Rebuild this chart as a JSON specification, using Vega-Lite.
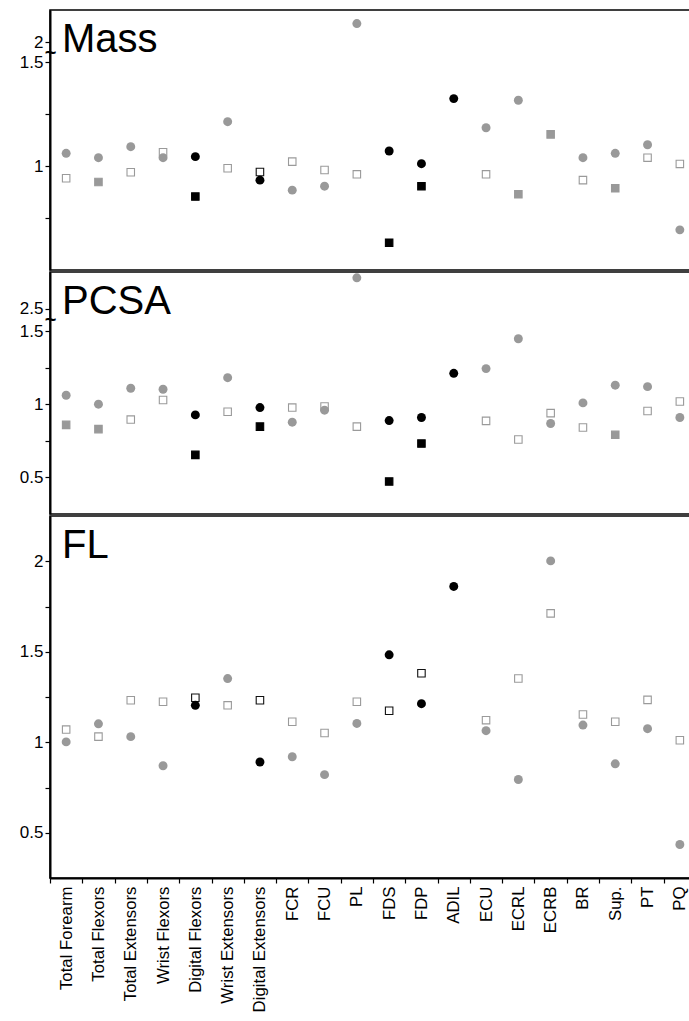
{
  "$schema": "https://vega.github.io/schema/vega-lite/v6.json",
  "padding": {"left": 9, "top": 9, "right": 0, "bottom": 0},
  "background": "white",
  "config": {
    "view": {"stroke": "black", "strokeWidth": 1.6},
    "font": "Liberation Sans",
    "axis": {"domainColor": "black", "domainWidth": 2, "tickColor": "black", "tickWidth": 1.2, "tickSize": 5, "labelColor": "black", "labelFontSize": 17, "labelFont": "Liberation Sans", "grid": false, "title": null, "labelPadding": 2},
    "title": {"fontSize": 40, "fontWeight": "normal", "font": "Liberation Sans", "anchor": "start", "frame": "group", "baseline": "alphabetic", "offset": -50, "dx": 12, "color": "black"},
    "concat": {"spacing": 0}
  },
  "data": {"values": [
    {"panel":"Mass","muscle":"Total Forearm","marker":"square","style":"gray open","ratio":0.941},
    {"panel":"Mass","muscle":"Total Flexors","marker":"square","style":"gray","ratio":0.923},
    {"panel":"Mass","muscle":"Total Extensors","marker":"square","style":"gray open","ratio":0.970},
    {"panel":"Mass","muscle":"Wrist Flexors","marker":"square","style":"gray open","ratio":1.066},
    {"panel":"Mass","muscle":"Digital Flexors","marker":"square","style":"black","ratio":0.853},
    {"panel":"Mass","muscle":"Wrist Extensors","marker":"square","style":"gray open","ratio":0.989},
    {"panel":"Mass","muscle":"Digital Extensors","marker":"square","style":"black open","ratio":0.971},
    {"panel":"Mass","muscle":"FCR","marker":"square","style":"gray open","ratio":1.021},
    {"panel":"Mass","muscle":"FCU","marker":"square","style":"gray open","ratio":0.981},
    {"panel":"Mass","muscle":"PL","marker":"square","style":"gray open","ratio":0.960},
    {"panel":"Mass","muscle":"FDS","marker":"square","style":"black","ratio":0.631},
    {"panel":"Mass","muscle":"FDP","marker":"square","style":"black","ratio":0.903},
    {"panel":"Mass","muscle":"ECU","marker":"square","style":"gray open","ratio":0.960},
    {"panel":"Mass","muscle":"ECRL","marker":"square","style":"gray","ratio":0.864},
    {"panel":"Mass","muscle":"ECRB","marker":"square","style":"gray","ratio":1.152},
    {"panel":"Mass","muscle":"BR","marker":"square","style":"gray open","ratio":0.932},
    {"panel":"Mass","muscle":"Sup.","marker":"square","style":"gray","ratio":0.893},
    {"panel":"Mass","muscle":"PT","marker":"square","style":"gray open","ratio":1.040},
    {"panel":"Mass","muscle":"PQ","marker":"square","style":"gray open","ratio":1.010},
    {"panel":"Mass","muscle":"Total Forearm","marker":"circle","style":"gray","ratio":1.061},
    {"panel":"Mass","muscle":"Total Flexors","marker":"circle","style":"gray","ratio":1.040},
    {"panel":"Mass","muscle":"Total Extensors","marker":"circle","style":"gray","ratio":1.093},
    {"panel":"Mass","muscle":"Wrist Flexors","marker":"circle","style":"gray","ratio":1.040},
    {"panel":"Mass","muscle":"Digital Flexors","marker":"circle","style":"black","ratio":1.045},
    {"panel":"Mass","muscle":"Wrist Extensors","marker":"circle","style":"gray","ratio":1.213},
    {"panel":"Mass","muscle":"Digital Extensors","marker":"circle","style":"black","ratio":0.932},
    {"panel":"Mass","muscle":"FCR","marker":"circle","style":"gray","ratio":0.884},
    {"panel":"Mass","muscle":"FCU","marker":"circle","style":"gray","ratio":0.903},
    {"panel":"Mass","muscle":"PL","marker":"circle","style":"gray","ratio":2.09},
    {"panel":"Mass","muscle":"FDS","marker":"circle","style":"black","ratio":1.072},
    {"panel":"Mass","muscle":"FDP","marker":"circle","style":"black","ratio":1.011},
    {"panel":"Mass","muscle":"ADIL","marker":"circle","style":"black","ratio":1.324},
    {"panel":"Mass","muscle":"ECU","marker":"circle","style":"gray","ratio":1.184},
    {"panel":"Mass","muscle":"ECRL","marker":"circle","style":"gray","ratio":1.316},
    {"panel":"Mass","muscle":"BR","marker":"circle","style":"gray","ratio":1.040},
    {"panel":"Mass","muscle":"Sup.","marker":"circle","style":"gray","ratio":1.061},
    {"panel":"Mass","muscle":"PT","marker":"circle","style":"gray","ratio":1.102},
    {"panel":"Mass","muscle":"PQ","marker":"circle","style":"gray","ratio":0.693},

    {"panel":"PCSA","muscle":"Total Forearm","marker":"square","style":"gray","ratio":0.859},
    {"panel":"PCSA","muscle":"Total Flexors","marker":"square","style":"gray","ratio":0.830},
    {"panel":"PCSA","muscle":"Total Extensors","marker":"square","style":"gray open","ratio":0.895},
    {"panel":"PCSA","muscle":"Wrist Flexors","marker":"square","style":"gray open","ratio":1.029},
    {"panel":"PCSA","muscle":"Digital Flexors","marker":"square","style":"black","ratio":0.654},
    {"panel":"PCSA","muscle":"Wrist Extensors","marker":"square","style":"gray open","ratio":0.948},
    {"panel":"PCSA","muscle":"Digital Extensors","marker":"square","style":"black","ratio":0.847},
    {"panel":"PCSA","muscle":"FCR","marker":"square","style":"gray open","ratio":0.977},
    {"panel":"PCSA","muscle":"FCU","marker":"square","style":"gray open","ratio":0.984},
    {"panel":"PCSA","muscle":"PL","marker":"square","style":"gray open","ratio":0.847},
    {"panel":"PCSA","muscle":"FDS","marker":"square","style":"black","ratio":0.472},
    {"panel":"PCSA","muscle":"FDP","marker":"square","style":"black","ratio":0.731},
    {"panel":"PCSA","muscle":"ECU","marker":"square","style":"gray open","ratio":0.886},
    {"panel":"PCSA","muscle":"ECRL","marker":"square","style":"gray open","ratio":0.759},
    {"panel":"PCSA","muscle":"ECRB","marker":"square","style":"gray open","ratio":0.939},
    {"panel":"PCSA","muscle":"BR","marker":"square","style":"gray open","ratio":0.841},
    {"panel":"PCSA","muscle":"Sup.","marker":"square","style":"gray","ratio":0.791},
    {"panel":"PCSA","muscle":"PT","marker":"square","style":"gray open","ratio":0.954},
    {"panel":"PCSA","muscle":"PQ","marker":"square","style":"gray open","ratio":1.018},
    {"panel":"PCSA","muscle":"Total Forearm","marker":"circle","style":"gray","ratio":1.061},
    {"panel":"PCSA","muscle":"Total Flexors","marker":"circle","style":"gray","ratio":1.000},
    {"panel":"PCSA","muscle":"Total Extensors","marker":"circle","style":"gray","ratio":1.109},
    {"panel":"PCSA","muscle":"Wrist Flexors","marker":"circle","style":"gray","ratio":1.102},
    {"panel":"PCSA","muscle":"Digital Flexors","marker":"circle","style":"black","ratio":0.927},
    {"panel":"PCSA","muscle":"Wrist Extensors","marker":"circle","style":"gray","ratio":1.181},
    {"panel":"PCSA","muscle":"Digital Extensors","marker":"circle","style":"black","ratio":0.977},
    {"panel":"PCSA","muscle":"FCR","marker":"circle","style":"gray","ratio":0.877},
    {"panel":"PCSA","muscle":"FCU","marker":"circle","style":"gray","ratio":0.959},
    {"panel":"PCSA","muscle":"PL","marker":"circle","style":"gray","ratio":2.71},
    {"panel":"PCSA","muscle":"FDS","marker":"circle","style":"black","ratio":0.888},
    {"panel":"PCSA","muscle":"FDP","marker":"circle","style":"black","ratio":0.909},
    {"panel":"PCSA","muscle":"ADIL","marker":"circle","style":"black","ratio":1.211},
    {"panel":"PCSA","muscle":"ECU","marker":"circle","style":"gray","ratio":1.243},
    {"panel":"PCSA","muscle":"ECRL","marker":"circle","style":"gray","ratio":1.447},
    {"panel":"PCSA","muscle":"ECRB","marker":"circle","style":"gray","ratio":0.868},
    {"panel":"PCSA","muscle":"BR","marker":"circle","style":"gray","ratio":1.009},
    {"panel":"PCSA","muscle":"Sup.","marker":"circle","style":"gray","ratio":1.130},
    {"panel":"PCSA","muscle":"PT","marker":"circle","style":"gray","ratio":1.120},
    {"panel":"PCSA","muscle":"PQ","marker":"circle","style":"gray","ratio":0.909},

    {"panel":"FL","muscle":"Total Forearm","marker":"square","style":"gray open","ratio":1.070},
    {"panel":"FL","muscle":"Total Flexors","marker":"square","style":"gray open","ratio":1.031},
    {"panel":"FL","muscle":"Total Extensors","marker":"square","style":"gray open","ratio":1.232},
    {"panel":"FL","muscle":"Wrist Flexors","marker":"square","style":"gray open","ratio":1.224},
    {"panel":"FL","muscle":"Digital Flexors","marker":"square","style":"black open","ratio":1.246},
    {"panel":"FL","muscle":"Wrist Extensors","marker":"square","style":"gray open","ratio":1.204},
    {"panel":"FL","muscle":"Digital Extensors","marker":"square","style":"black open","ratio":1.232},
    {"panel":"FL","muscle":"FCR","marker":"square","style":"gray open","ratio":1.113},
    {"panel":"FL","muscle":"FCU","marker":"square","style":"gray open","ratio":1.051},
    {"panel":"FL","muscle":"PL","marker":"square","style":"gray open","ratio":1.224},
    {"panel":"FL","muscle":"FDS","marker":"square","style":"black open","ratio":1.174},
    {"panel":"FL","muscle":"FDP","marker":"square","style":"black open","ratio":1.381},
    {"panel":"FL","muscle":"ECU","marker":"square","style":"gray open","ratio":1.122},
    {"panel":"FL","muscle":"ECRL","marker":"square","style":"gray open","ratio":1.352},
    {"panel":"FL","muscle":"ECRB","marker":"square","style":"gray open","ratio":1.712},
    {"panel":"FL","muscle":"BR","marker":"square","style":"gray open","ratio":1.153},
    {"panel":"FL","muscle":"Sup.","marker":"square","style":"gray open","ratio":1.113},
    {"panel":"FL","muscle":"PT","marker":"square","style":"gray open","ratio":1.234},
    {"panel":"FL","muscle":"PQ","marker":"square","style":"gray open","ratio":1.011},
    {"panel":"FL","muscle":"Total Forearm","marker":"circle","style":"gray","ratio":1.002},
    {"panel":"FL","muscle":"Total Flexors","marker":"circle","style":"gray","ratio":1.102},
    {"panel":"FL","muscle":"Total Extensors","marker":"circle","style":"gray","ratio":1.031},
    {"panel":"FL","muscle":"Wrist Flexors","marker":"circle","style":"gray","ratio":0.870},
    {"panel":"FL","muscle":"Digital Flexors","marker":"circle","style":"black","ratio":1.204},
    {"panel":"FL","muscle":"Wrist Extensors","marker":"circle","style":"gray","ratio":1.352},
    {"panel":"FL","muscle":"Digital Extensors","marker":"circle","style":"black","ratio":0.891},
    {"panel":"FL","muscle":"FCR","marker":"circle","style":"gray","ratio":0.920},
    {"panel":"FL","muscle":"FCU","marker":"circle","style":"gray","ratio":0.821},
    {"panel":"FL","muscle":"PL","marker":"circle","style":"gray","ratio":1.104},
    {"panel":"FL","muscle":"FDS","marker":"circle","style":"black","ratio":1.483},
    {"panel":"FL","muscle":"FDP","marker":"circle","style":"black","ratio":1.213},
    {"panel":"FL","muscle":"ADIL","marker":"circle","style":"black","ratio":1.861},
    {"panel":"FL","muscle":"ECU","marker":"circle","style":"gray","ratio":1.064},
    {"panel":"FL","muscle":"ECRL","marker":"circle","style":"gray","ratio":0.794},
    {"panel":"FL","muscle":"ECRB","marker":"circle","style":"gray","ratio":2.002},
    {"panel":"FL","muscle":"BR","marker":"circle","style":"gray","ratio":1.095},
    {"panel":"FL","muscle":"Sup.","marker":"circle","style":"gray","ratio":0.881},
    {"panel":"FL","muscle":"PT","marker":"circle","style":"gray","ratio":1.075},
    {"panel":"FL","muscle":"PQ","marker":"circle","style":"gray","ratio":0.435}
  ]},
  "vconcat": [
    {
      "title": {"text": "Mass"},
      "width": 640, "height": 260,
      "transform": [{"filter": "datum.panel === 'Mass'"}],
      "layer": [
        {
          "transform": [{"filter": "datum.marker === 'square'"}],
          "mark": {"type": "square", "size": 56, "strokeWidth": 1.1, "opacity": 1},
          "encoding": {
            "x": {"field": "muscle", "type": "nominal", "sort": null, "scale": {"domain": ["Total Forearm","Total Flexors","Total Extensors","Wrist Flexors","Digital Flexors","Wrist Extensors","Digital Extensors","FCR","FCU","PL","FDS","FDP","ADIL","ECU","ECRL","ECRB","BR","Sup.","PT","PQ"], "range": [0, 646]}, "axis": null},
            "y": {"field": "ratio", "type": "quantitative", "scale": {"domain": [0.5, 1.5, 2, 2.155], "range": [260, 52, 32.4, 0], "nice": false, "zero": false}, "axis": {
              "values": [0.75, 1, 1.25, 1.5, 1.75, 2],
              "labelExpr": "datum.value == 1.75 ? '~' : ((datum.value == 1 || datum.value == 1.5 || datum.value == 2) ? '' + datum.value : '')",
              "labelOverlap": false, "minExtent": 40, "maxExtent": 40,
              "labelPadding": {"condition": {"test": "datum.value == 1.75", "value": -5}, "value": 2},
              "labelAlign": {"condition": {"test": "datum.value == 1.75", "value": "center"}, "value": "right"},
              "labelFontWeight": {"condition": {"test": "datum.value == 1.75", "value": "bold"}, "value": "normal"},
              "labelFontSize": {"condition": {"test": "datum.value == 1.75", "value": 20}, "value": 17},
              "tickOpacity": {"condition": {"test": "datum.value == 1.75", "value": 0}, "value": 1}
            }},
            "fill": {"field": "style", "type": "nominal", "scale": {"domain": ["gray", "black", "gray open", "black open"], "range": ["#999999", "#000000", "#ffffff", "#ffffff"]}, "legend": null},
            "stroke": {"field": "style", "type": "nominal", "scale": {"domain": ["gray", "black", "gray open", "black open"], "range": ["#999999", "#000000", "#9a9a9a", "#111111"]}, "legend": null}
          }
        },
        {
          "transform": [{"filter": "datum.marker === 'circle'"}],
          "mark": {"type": "circle", "size": 80, "opacity": 1},
          "encoding": {
            "x": {"field": "muscle", "type": "nominal", "sort": null},
            "y": {"field": "ratio", "type": "quantitative"},
            "fill": {"field": "style", "type": "nominal", "legend": null}
          }
        }
      ]
    },
    {
      "title": {"text": "PCSA"},
      "width": 640, "height": 242,
      "transform": [{"filter": "datum.panel === 'PCSA'"}],
      "layer": [
        {
          "transform": [{"filter": "datum.marker === 'square'"}],
          "mark": {"type": "square", "size": 56, "strokeWidth": 1.1, "opacity": 1},
          "encoding": {
            "x": {"field": "muscle", "type": "nominal", "sort": null, "scale": {"domain": ["Total Forearm","Total Flexors","Total Extensors","Wrist Flexors","Digital Flexors","Wrist Extensors","Digital Extensors","FCR","FCU","PL","FDS","FDP","ADIL","ECU","ECRL","ECRB","BR","Sup.","PT","PQ"], "range": [0, 646]}, "axis": null},
            "y": {"field": "ratio", "type": "quantitative", "scale": {"domain": [0.25, 1.5, 2.5, 2.75], "range": [242, 59, 36.5, 0], "nice": false, "zero": false}, "axis": {
              "values": [0.5, 0.75, 1, 1.25, 1.5, 2, 2.5],
              "labelExpr": "datum.value == 2 ? '~' : ((datum.value == 0.5 || datum.value == 1 || datum.value == 1.5 || datum.value == 2.5) ? '' + datum.value : '')",
              "labelOverlap": false, "minExtent": 40, "maxExtent": 40,
              "labelPadding": {"condition": {"test": "datum.value == 2", "value": -5}, "value": 2},
              "labelAlign": {"condition": {"test": "datum.value == 2", "value": "center"}, "value": "right"},
              "labelFontWeight": {"condition": {"test": "datum.value == 2", "value": "bold"}, "value": "normal"},
              "labelFontSize": {"condition": {"test": "datum.value == 2", "value": 20}, "value": 17},
              "tickOpacity": {"condition": {"test": "datum.value == 2", "value": 0}, "value": 1}
            }},
            "fill": {"field": "style", "type": "nominal", "scale": {"domain": ["gray", "black", "gray open", "black open"], "range": ["#999999", "#000000", "#ffffff", "#ffffff"]}, "legend": null},
            "stroke": {"field": "style", "type": "nominal", "scale": {"domain": ["gray", "black", "gray open", "black open"], "range": ["#999999", "#000000", "#9a9a9a", "#111111"]}, "legend": null}
          }
        },
        {
          "transform": [{"filter": "datum.marker === 'circle'"}],
          "mark": {"type": "circle", "size": 80, "opacity": 1},
          "encoding": {
            "x": {"field": "muscle", "type": "nominal", "sort": null},
            "y": {"field": "ratio", "type": "quantitative"},
            "fill": {"field": "style", "type": "nominal", "legend": null}
          }
        }
      ]
    },
    {
      "title": {"text": "FL"},
      "width": 640, "height": 362,
      "transform": [{"filter": "datum.panel === 'FL'"}],
      "layer": [
        {
          "transform": [{"filter": "datum.marker === 'square'"}],
          "mark": {"type": "square", "size": 56, "strokeWidth": 1.1, "opacity": 1},
          "encoding": {
            "x": {"field": "muscle", "type": "nominal", "sort": null, "scale": {"domain": ["Total Forearm","Total Flexors","Total Extensors","Wrist Flexors","Digital Flexors","Wrist Extensors","Digital Extensors","FCR","FCU","PL","FDS","FDP","ADIL","ECU","ECRL","ECRB","BR","Sup.","PT","PQ"], "range": [0, 646]}, "axis": {"labelAngle": -90, "tickBand": "extent", "labelPadding": 3, "labelFontSize": 16.8}},
            "y": {"field": "ratio", "type": "quantitative", "scale": {"domain": [0.25, 2.25], "nice": false, "zero": false}, "axis": {"values": [0.5, 0.75, 1, 1.25, 1.5, 1.75, 2], "labelExpr": "(datum.value == 0.5 || datum.value == 1 || datum.value == 1.5 || datum.value == 2) ? '' + datum.value : ''", "labelOverlap": false, "minExtent": 40, "maxExtent": 40}},
            "fill": {"field": "style", "type": "nominal", "scale": {"domain": ["gray", "black", "gray open", "black open"], "range": ["#999999", "#000000", "#ffffff", "#ffffff"]}, "legend": null},
            "stroke": {"field": "style", "type": "nominal", "scale": {"domain": ["gray", "black", "gray open", "black open"], "range": ["#999999", "#000000", "#9a9a9a", "#111111"]}, "legend": null}
          }
        },
        {
          "transform": [{"filter": "datum.marker === 'circle'"}],
          "mark": {"type": "circle", "size": 80, "opacity": 1},
          "encoding": {
            "x": {"field": "muscle", "type": "nominal", "sort": null},
            "y": {"field": "ratio", "type": "quantitative"},
            "fill": {"field": "style", "type": "nominal", "legend": null}
          }
        }
      ]
    }
  ]
}
